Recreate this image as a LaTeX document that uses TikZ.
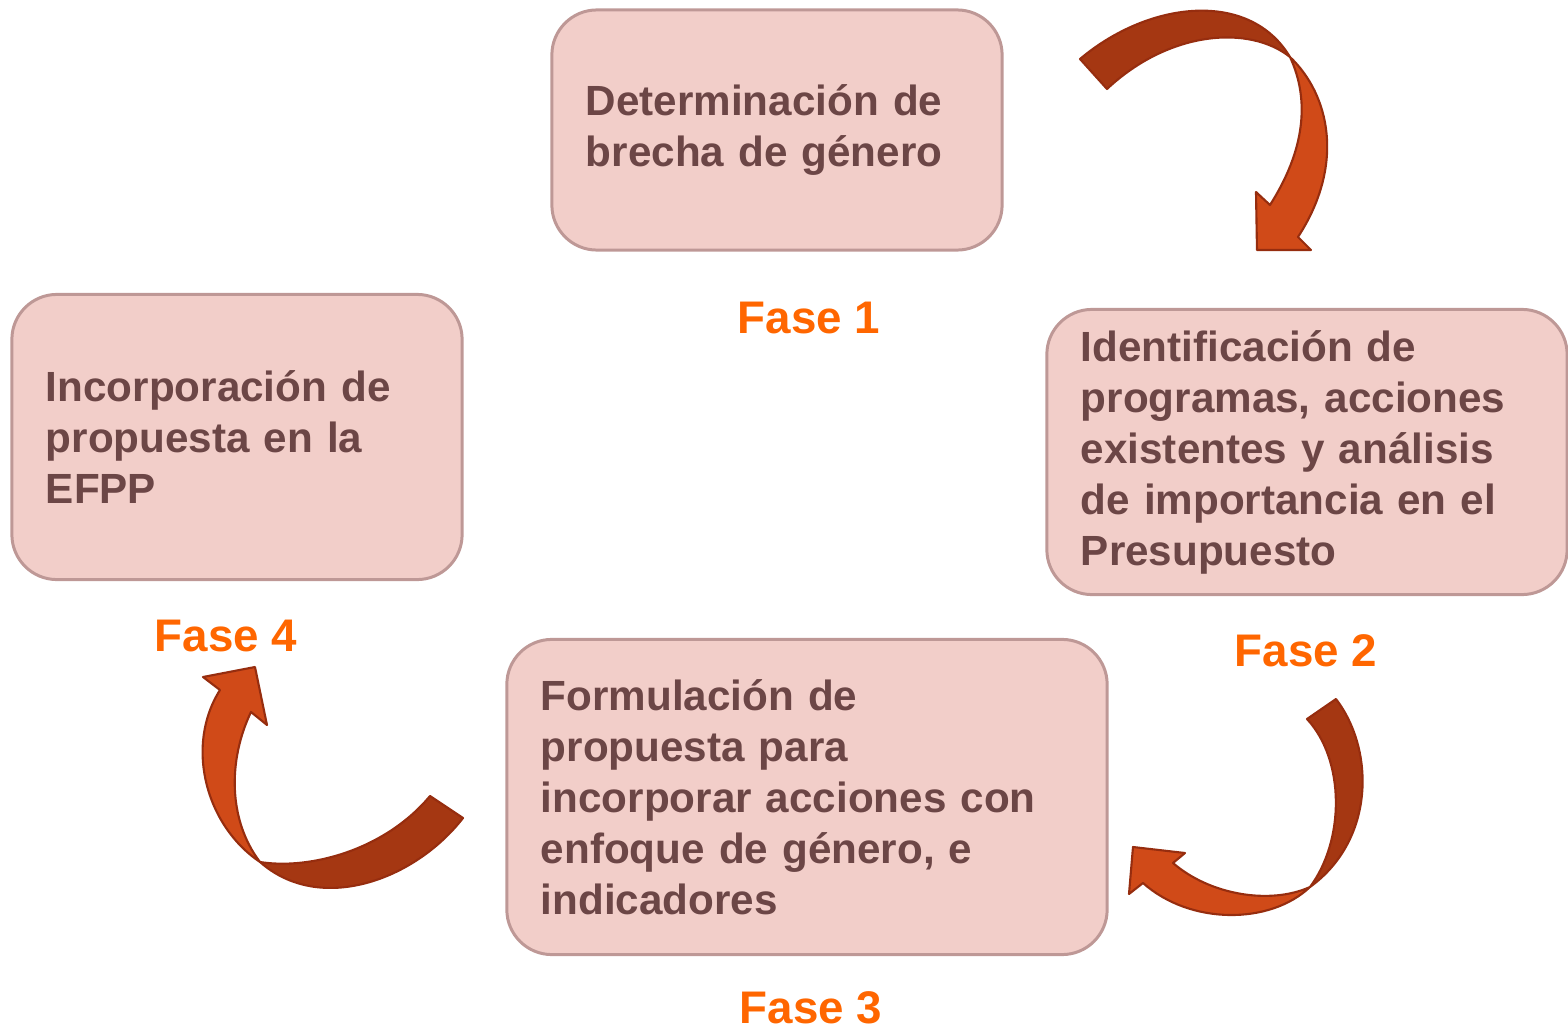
\documentclass[tikz,border=0pt]{standalone}
\usepackage{fontspec}
\setmainfont{Liberation Sans}

\definecolor{boxfill}{RGB}{242,206,201}
\definecolor{boxline}{RGB}{190,152,150}
\definecolor{boxtext}{RGB}{108,70,70}
\definecolor{fasecol}{RGB}{255,102,0}
\definecolor{arrowdark}{RGB}{165,55,18}
\definecolor{arrowlight}{RGB}{208,74,24}
\definecolor{arrowline}{RGB}{150,45,15}

\tikzstyle{phase}=[rectangle, draw=boxline, fill=boxfill, line width=0.85pt,
                   rounded corners=0.45cm, inner xsep=0.34cm, inner ysep=0.1cm,
                   align=left, text=boxtext,
                   font=\fontsize{12}{14.5}\selectfont\bfseries]
\tikzstyle{fase}=[text=fasecol, font=\fontsize{13}{15}\selectfont\bfseries]
\tikzstyle{bandback}=[fill=arrowdark, draw=arrowline, line width=0.6pt, line join=round]
\tikzstyle{bandhead}=[fill=arrowlight, draw=arrowline, line width=0.6pt, line join=round]

\begin{document}
\begin{tikzpicture}[x=0.01cm, y=-0.01cm]

  \useasboundingbox (0,0) rectangle (1568,1030);

  \node (Brecha) at (777, 130) [phase, text width=3.82cm, minimum height=2.4cm]
    {Determinación de\\brecha de género};

  \node (Programas) at (1307, 452) [phase, text width=4.52cm, minimum height=2.85cm]
    {Identificación de\\programas, acciones\\existentes y análisis\\de importancia en el\\Presupuesto};

  \node (Propuesta) at (807, 797) [phase, text width=5.32cm, minimum height=3.15cm]
    {Formulación de\\propuesta para\\incorporar acciones con\\enfoque de género, e\\indicadores};

  \node (Efpp) at (237, 437) [phase, text width=3.82cm, minimum height=2.85cm]
    {Incorporación de\\propuesta en la\\EFPP};

  \node (Fase1) at (809, 318) [fase] {Fase 1};
  \node (Fase2) at (1306, 651) [fase] {Fase 2};
  \node (Fase3) at (811, 1008) [fase] {Fase 3};
  \node (Fase4) at (226, 636) [fase] {Fase 4};

  %%%%%%%%%%%%%%%%%%%%%%%%%%%%%%
  % curved arrows
  % fase 1 -> fase 2
  \filldraw[bandback] (1080,59) .. controls (1150,0) and (1250,-10) .. (1290,57)
    .. controls (1250,25) and (1170,30) .. (1107,89) -- cycle;
  \filldraw[bandhead] (1290,57) .. controls (1330,95) and (1345,165) .. (1298,237)
    -- (1311,250) -- (1257,250) -- (1256,192) -- (1270,205)
    .. controls (1305,150) and (1310,100) .. (1290,57) -- cycle;

  % fase 2 -> fase 3
  \filldraw[bandback] (1307,719) -- (1336,699) .. controls (1375,750) and (1375,840) .. (1310,887)
    .. controls (1345,840) and (1345,760) .. (1307,719) -- cycle;
  \filldraw[bandhead] (1310,887) .. controls (1270,925) and (1190,925) .. (1143,883)
    -- (1129,894) -- (1133,847) -- (1185,853) -- (1173,863)
    .. controls (1210,895) and (1270,905) .. (1310,887) -- cycle;

  % fase 3 -> fase 4
  \filldraw[bandback] (430,796) -- (463,818) .. controls (415,880) and (320,915) .. (260,862)
    .. controls (310,870) and (385,850) .. (430,796) -- cycle;
  \filldraw[bandhead] (260,862) .. controls (205,825) and (185,745) .. (220,690)
    -- (203,677) -- (255,667) -- (267,725) -- (251,712)
    .. controls (228,760) and (228,820) .. (260,862) -- cycle;

\end{tikzpicture}
\end{document}
